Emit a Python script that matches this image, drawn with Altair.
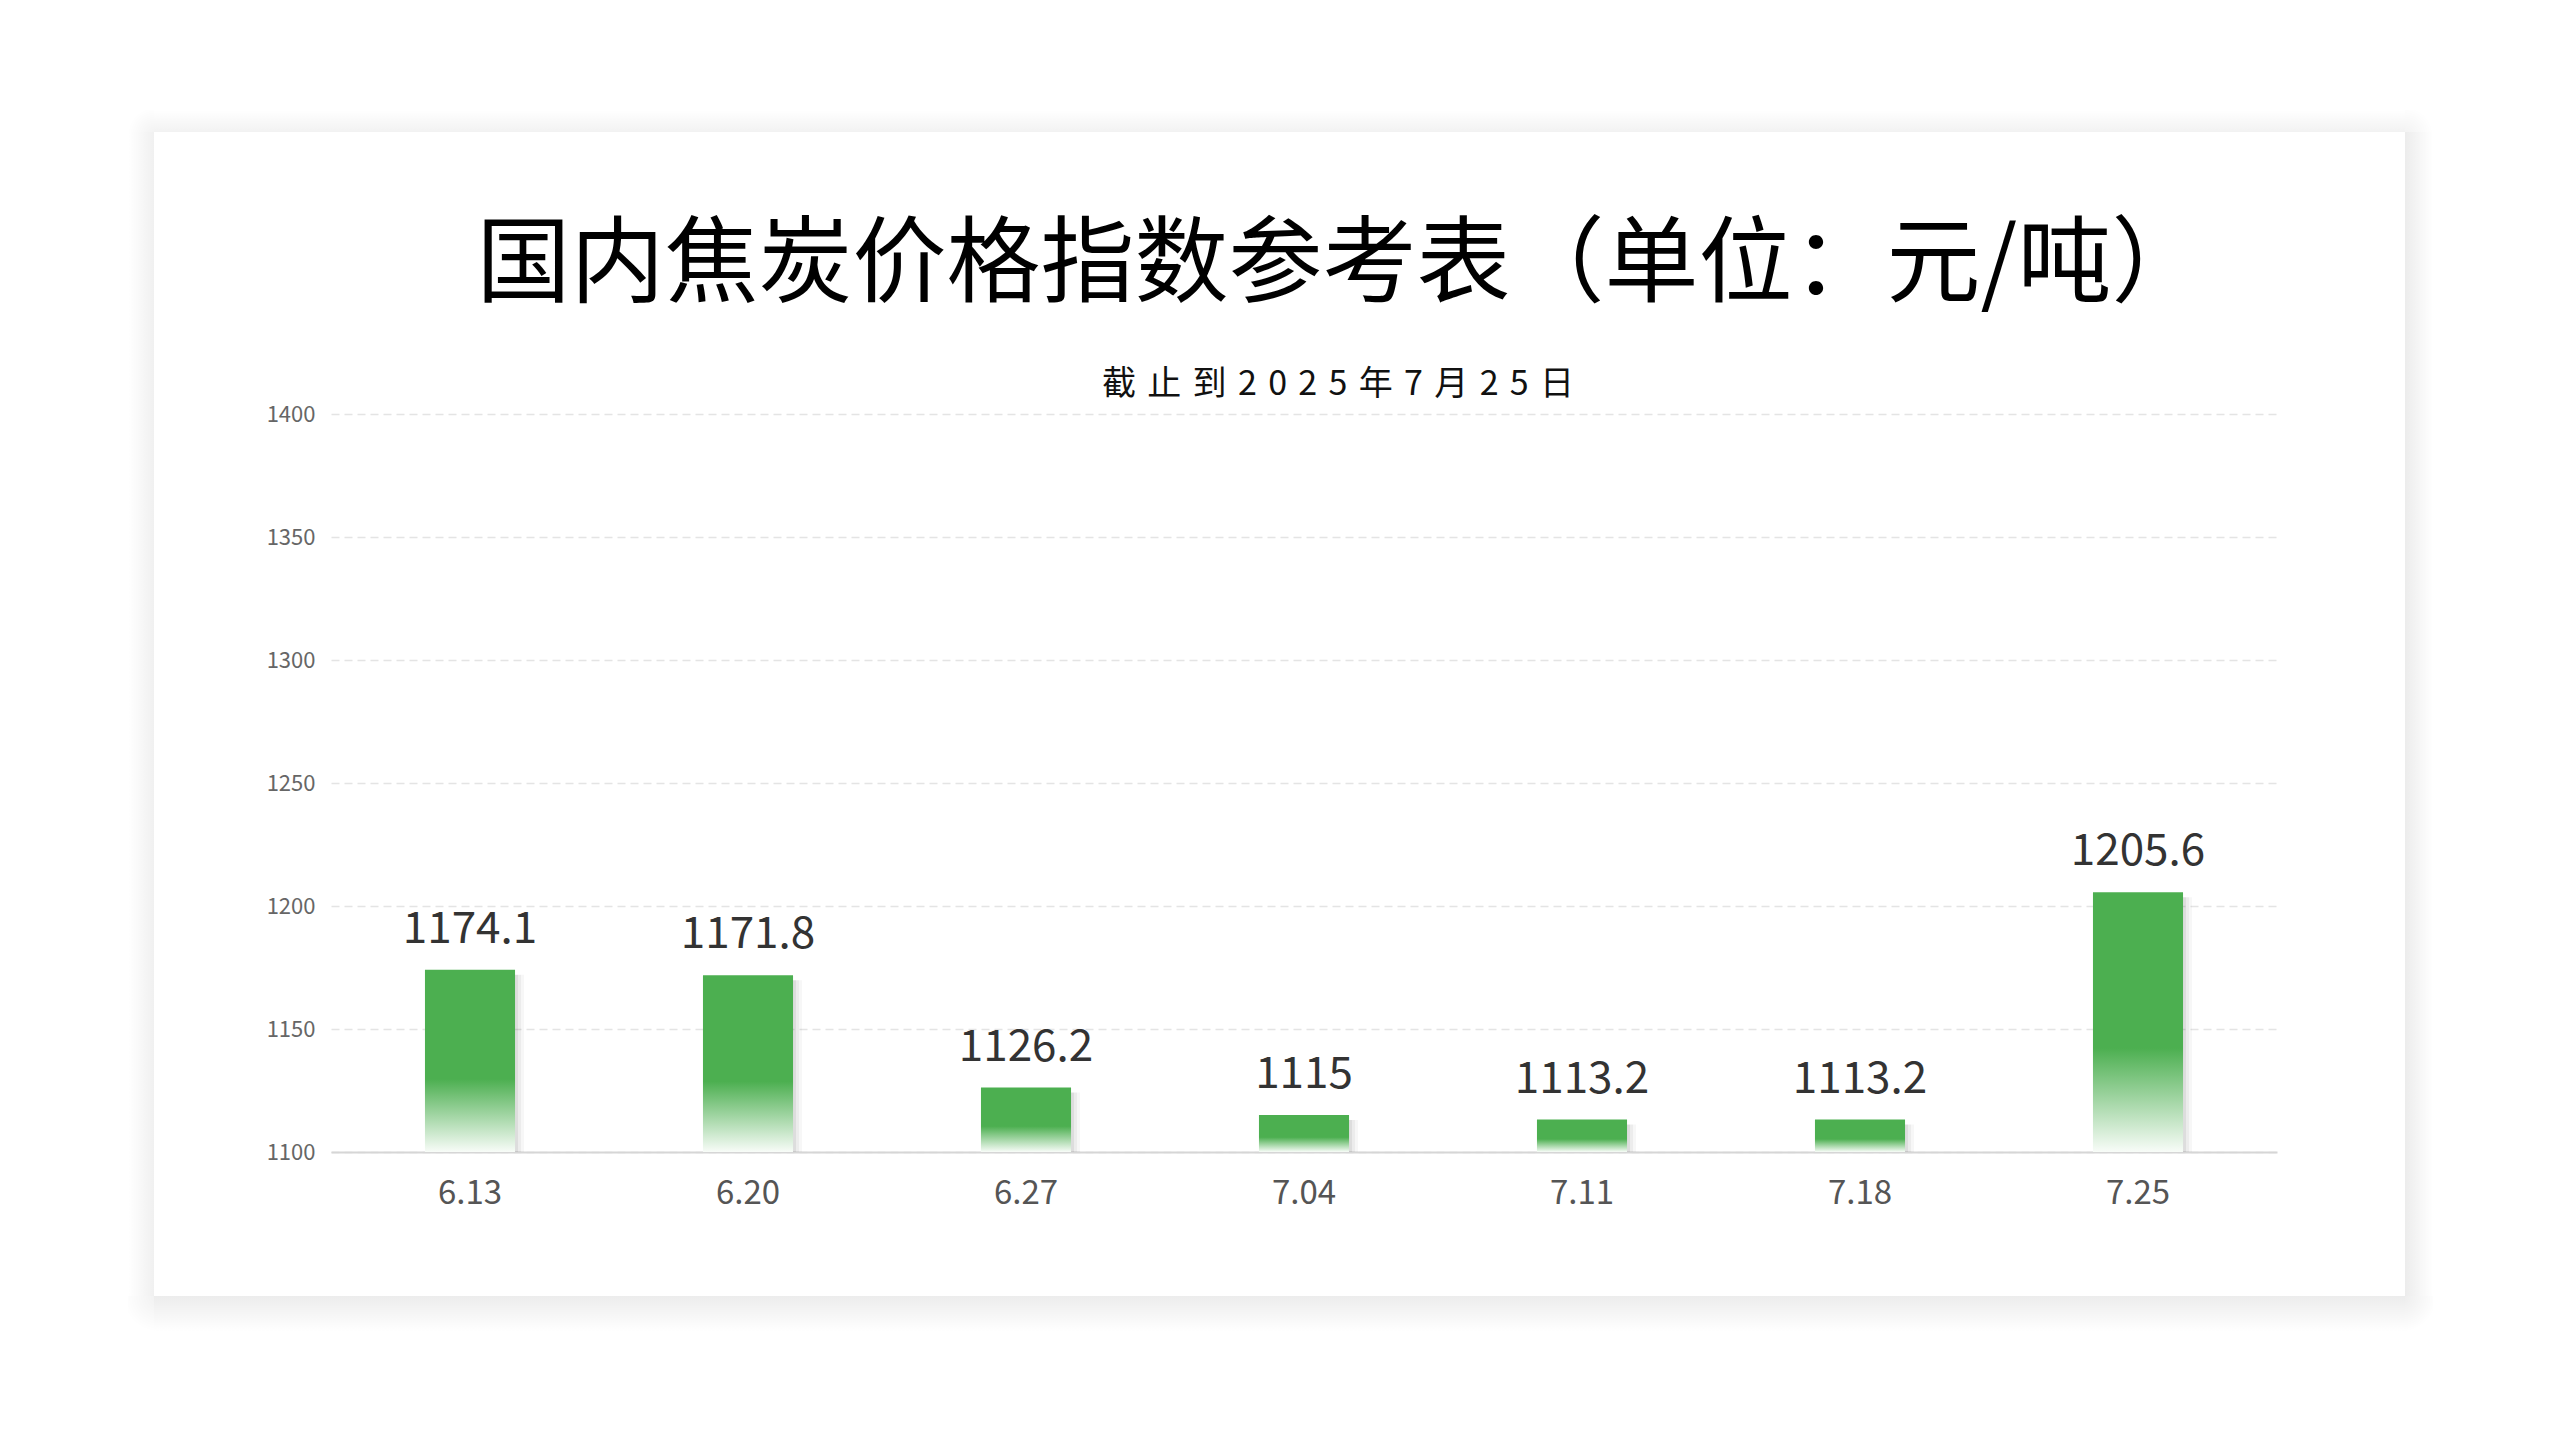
import altair as alt
import pandas as pd

# ---- data ----
dates = ["6.13", "6.20", "6.27", "7.04", "7.11", "7.18", "7.25"]
prices = [1174.1, 1171.8, 1126.2, 1115.0, 1113.2, 1113.2, 1205.6]
y_ticks = [1100, 1150, 1200, 1250, 1300, 1350, 1400]
title_text = "国内焦炭价格指数参考表（单位：元/吨）"
subtitle_text = "截止到2025年7月25日"

df = pd.DataFrame({"date": dates, "price": prices,
                   "label": [f"{p:g}" for p in prices]})
one = pd.DataFrame({"k": [0]})

FONT = "Noto Sans CJK SC"
GREEN = "#4caf50"
W, H = 1946, 738
PAD_L, PAD_T = 323, 406
PAD_R = 2544 - PAD_L - W
PAD_B = 1429 - PAD_T - H

# card edges in view coordinates (decorative frame)
CX1, CX2, CY1, CY2 = -177, 2074, -282, 882

x_enc = alt.X("date:N", sort=dates,
              scale=alt.Scale(paddingInner=0.676, paddingOuter=0.338),
              axis=alt.Axis(title=None, labelAngle=0, labelFontSize=33,
                            labelColor="#555555", labelPadding=25,
                            ticks=False, tickSize=0, domain=True,
                            domainColor="#d6d6d6", domainWidth=2,
                            grid=False, labelFont=FONT))
y_enc = alt.Y("price:Q",
              scale=alt.Scale(domain=[1100, 1400], zero=False, nice=False),
              axis=alt.Axis(title=None, values=y_ticks, format="d",
                            labelFontSize=22,
                            labelColor="#666666", labelPadding=16,
                            ticks=False, tickSize=0, domain=False, grid=True,
                            gridColor="#e4e4e4", gridDash=[8, 5],
                            gridWidth=1.5, labelFont=FONT))


def lin(horizontal, alpha0, alpha1):
    return alt.LinearGradient(
        gradient="linear",
        stops=[alt.GradientStop(color=f"rgba(0,0,0,{alpha0})", offset=0),
               alt.GradientStop(color=f"rgba(0,0,0,{alpha1})", offset=1)],
        x1=0, y1=0, x2=1 if horizontal else 0, y2=0 if horizontal else 1)


def rad(cx, cy, alpha):
    return alt.RadialGradient(
        gradient="radial",
        stops=[alt.GradientStop(color=f"rgba(0,0,0,{alpha})", offset=0),
               alt.GradientStop(color="rgba(0,0,0,0)", offset=1)],
        x1=cx, y1=cy, r1=0, x2=cx, y2=cy, r2=1)


def panel(x1, x2, y1, y2, fill):
    return alt.Chart(one).mark_rect(fill=fill, strokeWidth=0).encode(
        x=alt.value(x1), x2=alt.value(x2), y=alt.value(y1), y2=alt.value(y2))


R, B, L, T = 28, 36, 26, 22
card = [
    panel(CX2, CX2 + R, CY1, CY2, lin(True, 0.075, 0)),
    panel(CX1, CX2, CY2, CY2 + B, lin(False, 0.075, 0)),
    panel(CX1 - L, CX1, CY1, CY2, lin(True, 0, 0.06)),
    panel(CX1, CX2, CY1 - T, CY1, lin(False, 0, 0.05)),
    panel(CX2, CX2 + R, CY2, CY2 + B, rad(0, 0, 0.075)),
    panel(CX1 - L, CX1, CY2, CY2 + B, rad(1, 0, 0.06)),
    panel(CX2, CX2 + R, CY1 - T, CY1, rad(0, 1, 0.05)),
    panel(CX1 - L, CX1, CY1 - T, CY1, rad(1, 1, 0.05)),
]

base = alt.Chart(df).encode(x=x_enc)

shadows = [
    base.mark_bar(color="#000000", opacity=op, xOffset=off, yOffset=5)
    .encode(y=y_enc, y2=alt.datum(1100))
    for off, op in [(3, 0.06), (6, 0.045), (9, 0.03)]
]

bar_grad = alt.LinearGradient(
    gradient="linear",
    stops=[alt.GradientStop(color=GREEN, offset=0),
           alt.GradientStop(color=GREEN, offset=0.6),
           alt.GradientStop(color="#f8fcf8", offset=1)],
    x1=0, y1=0, x2=0, y2=1)

bars = base.mark_bar(color=bar_grad).encode(y=y_enc, y2=alt.datum(1100))

labels = base.mark_text(baseline="alphabetic", dy=-27, fontSize=44,
                        color="#333333", font=FONT).encode(
    y=alt.Y("price:Q", scale=alt.Scale(domain=[1100, 1400], zero=False,
                                       nice=False)),
    text="label:N")

title = alt.Chart(pd.DataFrame({"t": [title_text]})).mark_text(
    fontSize=94, font=FONT, color="#000000", align="center",
    baseline="alphabetic").encode(
    x=alt.value(1010), y=alt.value(-119), text="t:N")

sub_spaced = "\u2004".join(list(subtitle_text))
subtitle = alt.Chart(pd.DataFrame({"t": [sub_spaced]})).mark_text(
    fontSize=34, font=FONT, color="#111111", align="center",
    baseline="alphabetic").encode(
    x=alt.value(1007), y=alt.value(-19), text="t:N")

chart = (
    alt.layer(*card, *shadows, bars, labels, title, subtitle)
    .properties(
        width=W, height=H,
        autosize=alt.AutoSizeParams(type="none"),
        padding={"left": PAD_L, "top": PAD_T, "right": PAD_R,
                 "bottom": PAD_B},
        background="#ffffff",
    )
    .configure(font=FONT)
    .configure_view(strokeWidth=0, stroke="transparent")
)

chart.save("out.html", embed_options={"renderer": "svg", "actions": False})
